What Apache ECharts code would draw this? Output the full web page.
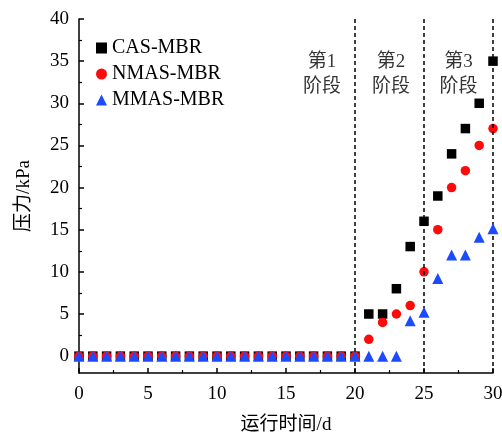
<!DOCTYPE html>
<html>
<head>
<meta charset="utf-8">
<script src="https://cdn.jsdelivr.net/npm/echarts@6/dist/echarts.min.js"></script>
<style>
html,body{margin:0;padding:0;background:#fff;}
#chart{width:502px;height:433px;}
</style>
</head>
<body>
<div id="chart"></div>
<script>
var days = [0,1,2,3,4,5,6,7,8,9,10,11,12,13,14,15,16,17,18,19,20,21,22,23,24,25,26,27,28,29,30];
var casMBR  = [0,0,0,0,0,0,0,0,0,0,0,0,0,0,0,0,0,0,0,0,0, 5,5,8,13,16,19,24,27,30,35];
var nmasMBR = [0,0,0,0,0,0,0,0,0,0,0,0,0,0,0,0,0,0,0,0,0, 2,4,5,6,10,15,20,22,25,27];
var mmasMBR = [0,0,0,0,0,0,0,0,0,0,0,0,0,0,0,0,0,0,0,0,0, 0,0,0,4.2,5.2,9.2,12,12,14.1,15.1];
var seriesNames = ['CAS-MBR','NMAS-MBR','MMAS-MBR'];
var stageLines = [20, 25, 30];
var stageLabels = ['第1\n阶段','第2\n阶段','第3\n阶段'];
var stageLabelX = [17.6, 22.6, 27.5];
var stageLabelY = 33.4;
var yMajorTicks = [0,5,10,15,20,25,30,35,40];
var yMinorTicks = [2.5,7.5,12.5,17.5,22.5,27.5,32.5,37.5];

var FONT = '"Liberation Serif","Times New Roman","Noto Sans CJK SC",serif';

function pairs(arr){ return days.map(function(d,i){ return [d, arr[i]]; }); }

var chart = echarts.init(document.getElementById('chart'), null, {renderer:'canvas'});
var option = {
  animation:false,
  backgroundColor:'#fff',
  textStyle:{fontFamily:FONT, color:'#000'},
  grid:{left:79, right:9, top:19, bottom:60, containLabel:false, outerBoundsMode:'none'},
  legend:{
    data:seriesNames,
    orient:'vertical',
    left:91, top:33,
    itemWidth:11, itemHeight:11,
    itemGap:6,
    textStyle:{fontFamily:FONT, fontSize:20, lineHeight:20, color:'#000'}
  },
  xAxis:{
    type:'value', min:0, max:30, interval:5,
    axisLine:{show:true, onZero:false, lineStyle:{color:'#000', width:1.5}},
    axisTick:{show:true, inside:true, length:5, lineStyle:{color:'#000', width:1.5}},
    minorTick:{show:true, splitNumber:2, length:3, lineStyle:{color:'#000', width:1.2}},
    splitLine:{show:false},
    axisLabel:{fontFamily:FONT, fontSize:19, color:'#000', margin:12},
    name:'运行时间/d', nameLocation:'middle', nameGap:43,
    nameTextStyle:{fontFamily:FONT, fontSize:19, color:'#000'}
  },
  yAxis:[{
    type:'value', min:-2, max:40,
    axisLine:{show:true, onZero:false, lineStyle:{color:'#000', width:1.5}},
    axisTick:{show:true, inside:true, length:5, customValues:yMajorTicks, lineStyle:{color:'#000', width:1.5}},
    axisLabel:{fontFamily:FONT, fontSize:19, color:'#000', margin:10, customValues:yMajorTicks},
    splitLine:{show:false},
    name:'压力/kPa', nameLocation:'middle', nameGap:45, nameRotate:90,
    nameTextStyle:{fontFamily:FONT, fontSize:19, color:'#000'}
  },{
    type:'value', min:-2, max:40, position:'left',
    axisLine:{show:false},
    axisTick:{show:true, inside:true, length:3, customValues:yMinorTicks, lineStyle:{color:'#000', width:1.2}},
    axisLabel:{show:false, customValues:yMinorTicks},
    splitLine:{show:false}
  }],
  series:[
    {
      name:seriesNames[0], type:'scatter', symbol:'rect', symbolSize:9.5,
      itemStyle:{color:'#000', opacity:1}, data:pairs(casMBR), z:3,
      markLine:{
        silent:true, symbol:'none', label:{show:false},
        lineStyle:{color:'#000', width:1.5, type:[4,3], opacity:1},
        data:stageLines.map(function(v){ return {xAxis:v}; })
      }
    },
    {
      name:seriesNames[1], type:'scatter', symbol:'circle', symbolSize:9.5,
      itemStyle:{color:'#ff0a0a', opacity:1}, data:pairs(nmasMBR), z:4
    },
    {
      name:seriesNames[2], type:'scatter', symbol:'triangle', symbolSize:11,
      itemStyle:{color:'#1c4bff', opacity:1}, data:pairs(mmasMBR), z:5
    },
    {
      name:'stages', type:'scatter', symbolSize:0, silent:true,
      data:stageLabelX.map(function(x,i){ return {value:[x, stageLabelY], name:stageLabels[i]}; }),
      label:{show:true, position:'inside', formatter:function(p){return p.name;},
        fontFamily:FONT, fontSize:19, lineHeight:25, color:'#000', align:'center'}
    }
  ]
};
chart.setOption(option);
</script>
</body>
</html>
